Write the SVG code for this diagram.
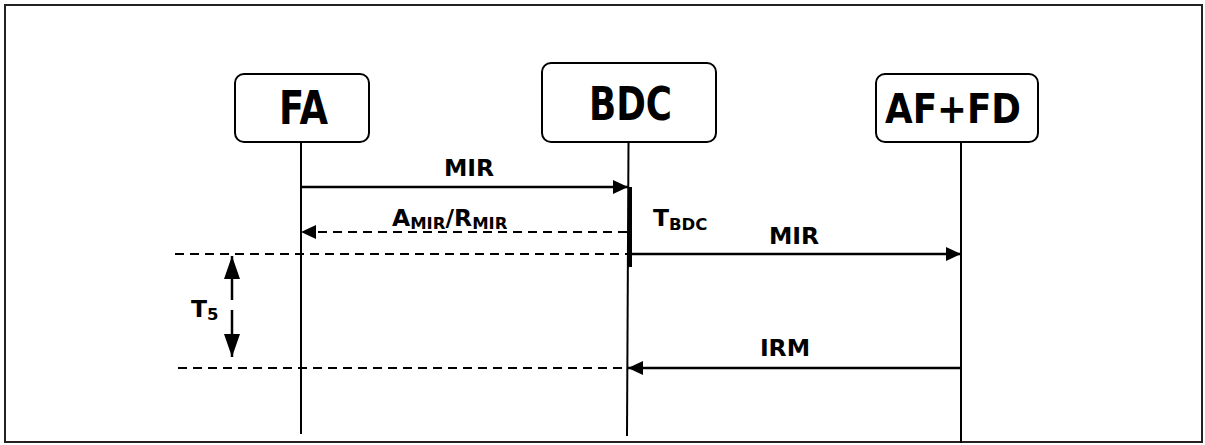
<svg xmlns="http://www.w3.org/2000/svg" width="1205" height="445" viewBox="0 0 1205 445">
<defs>
<style>
.box{fill:#fff;stroke:#000;stroke-width:2}
.life{stroke:#000;stroke-width:2;fill:none}
.msg{stroke:#000;stroke-width:2.5;fill:none}
.dash{stroke:#000;stroke-width:2;fill:none;stroke-dasharray:9,6}
.t{font-family:"DejaVu Sans",Verdana,sans-serif;font-weight:bold;fill:#000}
.big{font-family:"DejaVu Sans Condensed","DejaVu Sans",sans-serif;font-stretch:condensed;font-size:46px}
.lbl{font-size:23.5px}
.sub{font-size:16.5px}
</style>
<marker id="ah" markerWidth="16" markerHeight="14" refX="15" refY="7" orient="auto" markerUnits="userSpaceOnUse">
<path d="M0,0 L15,7 L0,14 Z" fill="#000"/>
</marker>
<marker id="ahT" markerWidth="24" markerHeight="16" refX="23" refY="8" orient="auto" markerUnits="userSpaceOnUse">
<path d="M0,0 L23,8 L0,16 Z" fill="#000"/>
</marker>
</defs>
<rect x="5" y="5" width="1197" height="437" fill="#fff" stroke="#222" stroke-width="2"/>
<g id="FA">
<rect class="box" x="235" y="74" width="134" height="68" rx="9"/>
<text class="t big" x="303.5" y="124" text-anchor="middle" textLength="49" lengthAdjust="spacingAndGlyphs">FA</text>
<line class="life" x1="301" y1="142" x2="301" y2="434"/>
</g>
<g id="BDC">
<rect class="box" x="542" y="63" width="174" height="79" rx="9"/>
<text class="t big" x="630.5" y="120" text-anchor="middle" textLength="83" lengthAdjust="spacingAndGlyphs">BDC</text>
<line class="life" x1="628.5" y1="142" x2="627" y2="436"/>
<rect x="628" y="187" width="4" height="80" fill="#000"/>
</g>
<g id="AFFD">
<rect class="box" x="876" y="74" width="162" height="68" rx="9"/>
<text class="t big" style="font-size:41px" x="953" y="123" text-anchor="middle" textLength="136" lengthAdjust="spacingAndGlyphs">AF+FD</text>
<line class="life" x1="961" y1="142" x2="961" y2="443"/>
</g>
<g id="connectors">
<line class="msg" x1="301" y1="187" x2="628" y2="187" marker-end="url(#ah)"/>
<text class="t lbl" x="469" y="176" text-anchor="middle">MIR</text>
<line class="dash" x1="627" y1="232" x2="301" y2="232" marker-end="url(#ah)"/>
<text class="t lbl" x="392" y="226">A<tspan class="sub" dy="3">MIR</tspan><tspan dy="-3">/R</tspan><tspan class="sub" dy="3">MIR</tspan></text>
<text class="t lbl" x="653" y="226">T<tspan class="sub" dy="4">BDC</tspan></text>
<line class="dash" x1="175" y1="254" x2="628" y2="254"/>
<line class="msg" x1="632" y1="254" x2="961" y2="254" marker-end="url(#ah)"/>
<text class="t lbl" x="794" y="244" text-anchor="middle">MIR</text>
<line class="dash" x1="178" y1="368" x2="628" y2="368"/>
<line class="msg" x1="960" y1="368" x2="628" y2="368" marker-end="url(#ah)"/>
<text class="t lbl" x="785" y="356" text-anchor="middle">IRM</text>
<line class="msg" x1="232" y1="300" x2="232" y2="256" marker-end="url(#ahT)"/>
<line class="msg" x1="232" y1="310" x2="232" y2="357" marker-end="url(#ahT)"/>
<text class="t lbl" x="191" y="317">T<tspan class="sub" dy="3">5</tspan></text>
</g>
</svg>
